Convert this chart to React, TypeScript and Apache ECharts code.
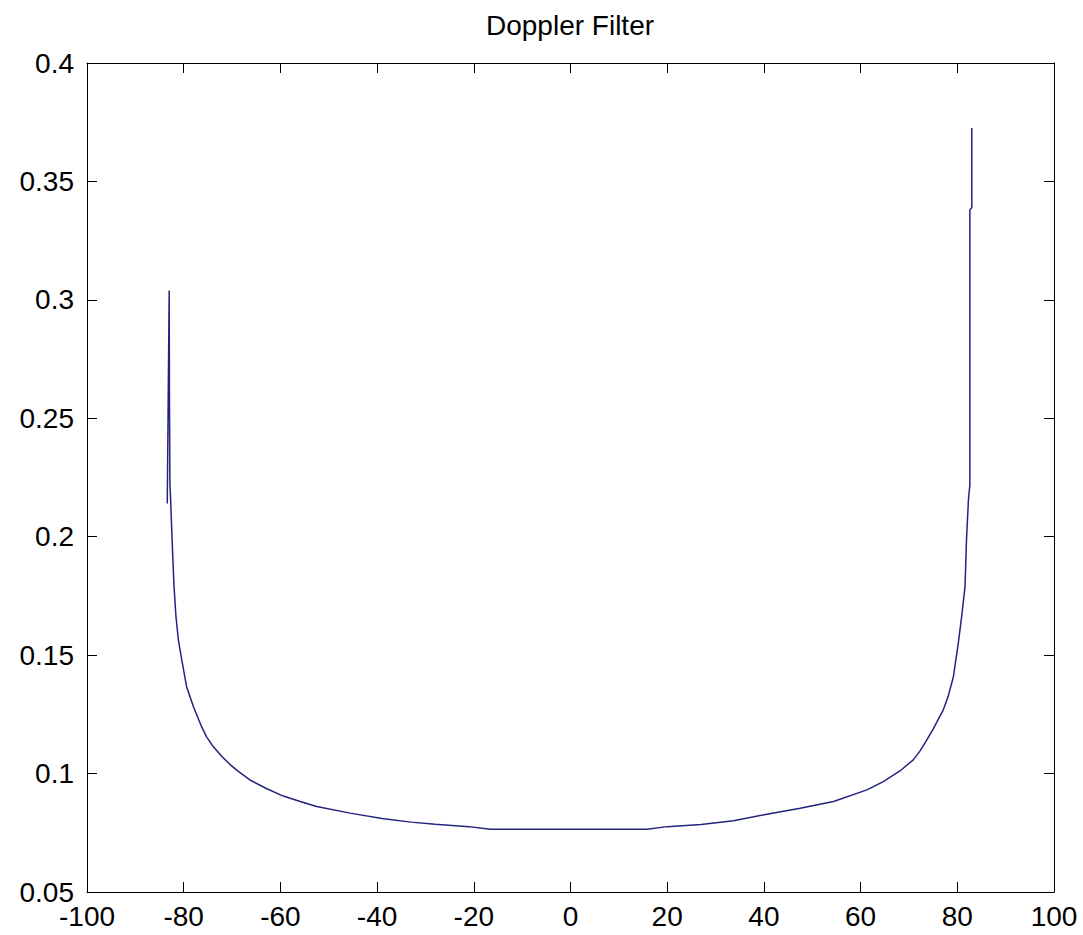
import React, { useEffect, useRef } from "react";
import * as echarts from "echarts";

// Doppler filter response: [velocity, amplitude], in drawing order
const leftEdge: [number, number][] = [
  [-83.4, 0.214], [-83.2, 0.259], [-83.0, 0.304], [-82.95, 0.259],
  [-82.85, 0.2227], [-82.75, 0.2227], [-82.7, 0.2155], [-82.4, 0.1986],
];
const leftBranch: [number, number][] = [
  [-82.0, 0.179], [-81.6, 0.1663], [-81.1, 0.1564], [-80.4, 0.148],
  [-79.4, 0.1367], [-78.0, 0.1283], [-76.3, 0.1198], [-75.3, 0.1156],
  [-73.9, 0.1114], [-72.1, 0.1072], [-70.4, 0.1038], [-68.7, 0.1009],
  [-66.3, 0.0973], [-62.8, 0.0936], [-59.4, 0.0905], [-55.9, 0.0882],
  [-52.5, 0.0861], [-45.6, 0.0833], [-39.0, 0.081], [-33.0, 0.0795],
  [-28.0, 0.0786], [-21.0, 0.0776], [-16.6, 0.0765],
];
const centre: [number, number][] = [[0, 0.0765], [15.8, 0.0765]];
const rightBranch: [number, number][] = [
  [20.0, 0.0776], [27.0, 0.0785], [33.7, 0.0801], [40.6, 0.0828],
  [47.5, 0.0854], [54.4, 0.0882], [61.3, 0.0931], [64.7, 0.0966],
  [68.2, 0.1012], [70.9, 0.1058], [72.3, 0.1096], [73.7, 0.1142],
  [75.0, 0.1188], [77.1, 0.1269], [78.1, 0.1325], [79.2, 0.141],
  [80.2, 0.155], [80.9, 0.1663], [81.6, 0.179], [81.9, 0.1986],
];
const rightEdge: [number, number][] = [
  [82.3, 0.2155], [82.6, 0.222], [82.6, 0.338], [83.0, 0.339], [83.0, 0.3726],
];
const seriesData = [...leftEdge, ...leftBranch, ...centre, ...rightBranch, ...rightEdge];

const xRange = { min: -100, max: 100, step: 20 };
const yRange = { min: 0.05, max: 0.4, step: 0.05 };
const titleText = "Doppler Filter";

const FONT = '"Liberation Sans", Arial, sans-serif';

export default function App() {
  const ref = useRef<HTMLDivElement>(null);
  useEffect(() => {
    if (!ref.current) return;
    const chart = echarts.init(ref.current, null, { renderer: "svg" });
    const axisLine = { show: true, onZero: false, lineStyle: { color: "#000", width: 1 } };
    const tick = { show: true, inside: true, length: 10, lineStyle: { color: "#000", width: 1 } };
    const labelStyle = { color: "#000", fontSize: 28, fontFamily: FONT };
    chart.setOption({
      animation: false,
      backgroundColor: "#fff",
      grid: { left: 87, top: 63, right: 29, bottom: 43, containLabel: false },
      graphic: [
        {
          type: "text",
          x: 570,
          y: 11,
          style: {
            text: titleText,
            textAlign: "center",
            textVerticalAlign: "top",
            fontSize: 28,
            fontFamily: FONT,
            fill: "#000",
          },
        },
      ],
      xAxis: [
        {
          type: "value",
          position: "bottom",
          min: xRange.min,
          max: xRange.max,
          interval: xRange.step,
          axisLine,
          axisTick: tick,
          splitLine: { show: false },
          axisLabel: { ...labelStyle, margin: 10 },
        },
        {
          type: "value",
          position: "top",
          min: xRange.min,
          max: xRange.max,
          interval: xRange.step,
          axisLine,
          axisTick: tick,
          splitLine: { show: false },
          axisLabel: { show: false },
        },
      ],
      yAxis: [
        {
          type: "value",
          position: "left",
          min: yRange.min,
          max: yRange.max,
          interval: yRange.step,
          axisLine,
          axisTick: tick,
          splitLine: { show: false },
          axisLabel: {
            ...labelStyle,
            margin: 13,
            formatter: (v: number) => String(+v.toFixed(2)),
          },
        },
        {
          type: "value",
          position: "right",
          min: yRange.min,
          max: yRange.max,
          interval: yRange.step,
          axisLine,
          axisTick: tick,
          splitLine: { show: false },
          axisLabel: { show: false },
        },
      ],
      series: [
        {
          type: "line",
          data: seriesData,
          xAxisIndex: 0,
          yAxisIndex: 0,
          showSymbol: false,
          symbol: "none",
          smooth: false,
          lineStyle: { color: "#23237f", width: 1.5 },
        },
      ],
    });
    return () => chart.dispose();
  }, []);
  return (
    <div
      ref={ref}
      style={{ position: "fixed", left: 0, top: 0, width: 1083, height: 935, background: "#fff" }}
    />
  );
}
